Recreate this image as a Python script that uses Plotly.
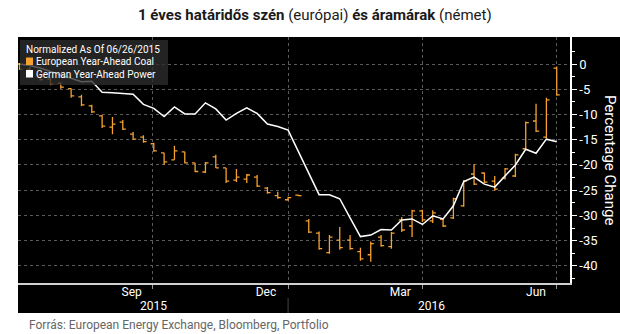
import plotly.graph_objects as go
import pandas as pd

# ---------------- data ----------------
week_dates = pd.date_range("2015-07-03", "2016-07-01", freq="W-FRI")

coal_open = [0.0, -1.0, -2.2, -3.0, -3.8, -4.9, -6.5, -8.3, -10.3, -12.5, -11.5, -13.9, -14.5,
             -15.8, -17.6, -19.0, -17.4, -19.6, -21.4, -18.4, -20.6, -23.0, -22.8, -22.4, -24.6,
             -26.1, -26.9, -26.0, -31.1, -33.5, -37.4, -34.9, -34.9, -37.2, -37.8, -34.3, -36.2,
             -30.9, -32.1, -29.1, -31.1, -30.8, -30.5, -28.1, -21.8, -21.6, -23.2, -22.6, -22.2,
             -16.8, -11.3, -14.5, -0.8]
coal_high = [0.2, -0.6, -2.0, -2.8, -3.6, -4.8, -6.1, -8.1, -10.1, -10.5, -11.1, -13.5, -14.1,
             -15.6, -17.6, -16.2, -17.4, -19.6, -19.4, -18.0, -20.6, -20.8, -21.8, -22.0, -24.4,
             -25.3, -26.3, -25.9, -30.7, -33.2, -33.9, -32.3, -33.9, -36.4, -35.2, -33.9, -33.3,
             -30.3, -28.9, -28.9, -29.0, -30.5, -26.5, -23.0, -19.8, -21.5, -22.2, -20.6, -17.8,
             -11.4, -7.9, -6.7, -0.5]
coal_low = [-1.2, -2.4, -3.3, -4.2, -4.9, -6.7, -8.3, -9.7, -12.7, -13.9, -13.1, -15.0, -15.6,
            -17.4, -20.0, -19.0, -19.7, -21.4, -21.6, -20.6, -23.6, -23.4, -23.6, -24.4, -25.7,
            -26.7, -27.1, -26.2, -33.5, -36.8, -37.6, -36.8, -36.8, -39.0, -39.2, -36.2, -36.6,
            -33.3, -34.3, -31.3, -31.5, -32.3, -30.7, -28.3, -24.0, -23.6, -25.1, -22.9, -22.4,
            -17.0, -13.5, -14.7, -6.3]
coal_close = [-1.0, -2.0, -3.1, -4.0, -4.6, -6.3, -8.1, -9.5, -12.3, -11.9, -12.9, -14.9, -15.4,
              -17.2, -19.4, -17.2, -19.6, -21.3, -19.6, -20.6, -23.2, -22.4, -22.0, -24.2, -25.5,
              -26.5, -26.5, -26.1, -33.3, -36.6, -34.3, -36.4, -36.6, -38.6, -35.6, -36.0, -33.5,
              -32.9, -29.1, -30.9, -29.5, -32.1, -26.7, -23.2, -23.8, -23.4, -24.8, -20.8, -18.0,
              -11.6, -13.3, -7.1, -6.1]
power = [0.0, -0.3, -0.8, -1.5, -2.2, -2.9, -3.5, -3.4, -5.6, -5.7, -5.8, -6.0, -8.0, -8.8,
         -10.4, -8.5, -9.9, -9.9, -7.7, -8.9, -11.1, -9.8, -8.7, -9.8, -11.9, -12.4, -13.1,
         -17.4, -21.6, -25.9, -25.9, -26.7, -30.5, -34.2, -33.9, -32.8, -32.9, -30.9, -30.7,
         -31.8, -30.1, -30.7, -28.1, -23.3, -22.4, -23.8, -24.4, -22.3, -20.0, -16.9, -17.7,
         -14.9, -15.4]

x_label_dates = ["2015-09-17", "2015-12-17", "2016-03-17", "2016-06-17"]
x_labels = ["Sep", "Dec", "Mar", "Jun"]
quarter_starts = ["2015-10-01", "2016-01-01", "2016-04-01", "2016-07-01"]
y_ticks = [0, -5, -10, -15, -20, -25, -30, -35, -40]
y_minor = [2.5, -2.5, -7.5, -12.5, -17.5, -22.5, -27.5, -32.5, -37.5, -42.5]
year_labels = ["2015", "2016"]
legend_title = "Normalized As Of 06/26/2015"
series_names = ["European Year-Ahead Coal", "German Year-Ahead Power"]

COAL = "#f5a02f"
FONT = "Roboto"

fig = go.Figure()
fig.add_trace(go.Ohlc(
    x=week_dates, open=coal_open, high=coal_high, low=coal_low, close=coal_close,
    increasing=dict(line=dict(color=COAL, width=1.3)),
    decreasing=dict(line=dict(color=COAL, width=1.3)),
    tickwidth=0.3, showlegend=False, hoverinfo="skip", name=series_names[0]))
fig.add_trace(go.Scatter(
    x=week_dates, y=power, mode="lines", line=dict(color="white", width=1.5),
    showlegend=False, hoverinfo="skip", name=series_names[1]))

fig.update_layout(
    width=620, height=334,
    margin=dict(l=18, r=50, t=37, b=51),
    paper_bgcolor="white", plot_bgcolor="black",
    showlegend=False,
    xaxis=dict(
        type="date", range=["2015-07-02", "2016-07-10"],
        tickmode="array", tickvals=x_label_dates, ticktext=x_labels,
        ticks="", showgrid=False, zeroline=False,
        showline=True, linecolor="#d0d0d0", linewidth=1.5,
        tickfont=dict(color="white", size=12, family=FONT),
        ticklabelstandoff=-3,
        rangeslider=dict(visible=False),
        minor=dict(tickmode="array", tickvals=quarter_starts, showgrid=True,
                   gridcolor="#5a5a5a", griddash="dot", gridwidth=1,
                   ticks="outside", ticklen=4, tickcolor="#999"),
    ),
    yaxis=dict(
        side="right", range=[-43.4, 5.35],
        tickmode="array", tickvals=y_ticks, ticktext=[str(v) for v in y_ticks],
        ticks="outside", ticklen=5, tickcolor="white",
        showline=True, linecolor="white", linewidth=1.5,
        showgrid=True, gridcolor="#5a5a5a", griddash="dot", gridwidth=1,
        zeroline=False,
        tickfont=dict(color="white", size=13, family=FONT),
        minor=dict(tickmode="array", tickvals=y_minor, ticks="outside", ticklen=3,
                   tickcolor="white", showgrid=False),
    ),
)

W, H = 552.0, 246.0
def px(x):
    return (x - 18) / W
def py(y):
    return (283 - y) / H

shapes = [
    dict(type="rect", xref="paper", yref="paper", x0=0, x1=px(620), y0=py(313), y1=1.0,
         fillcolor="black", line=dict(width=0), layer="below"),
    dict(type="rect", xref="paper", yref="paper", x0=px(20), x1=px(168), y0=py(85), y1=py(40),
         fillcolor="rgba(45,45,45,0.78)", line=dict(width=0), layer="above"),
    dict(type="line", xref="x", yref="paper", x0=quarter_starts[1], x1=quarter_starts[1],
         y0=py(298), y1=py(313), line=dict(color="#444", width=1), layer="above"),
    # legend swatches
    dict(type="rect", xref="paper", yref="paper", x0=px(26), x1=px(33), y0=py(65), y1=py(57.5),
         fillcolor=COAL, line=dict(width=0), layer="above"),
    dict(type="rect", xref="paper", yref="paper", x0=px(26), x1=px(33), y0=py(77.5), y1=py(70),
         fillcolor="white", line=dict(width=0), layer="above"),
]
fig.update_layout(shapes=shapes)

ann = [
    dict(text="<b>1 éves határidős szén</b> (európai) <b>és áramárak</b> (német)",
         xref="paper", yref="paper", x=px(315), y=py(15), xanchor="center", yanchor="middle",
         showarrow=False, font=dict(family=FONT, size=15, color="#1a1a1a")),
    dict(text="Forrás: European Energy Exchange, Bloomberg, Portfolio",
         xref="paper", yref="paper", x=px(27), y=py(325), xanchor="left", yanchor="middle",
         showarrow=False, font=dict(family=FONT, size=12, color="#666666")),
    dict(text="Percentage Change", xref="paper", yref="paper", x=px(610), y=py(160),
         xanchor="center", yanchor="middle", textangle=90, showarrow=False,
         font=dict(family=FONT, size=15, color="white")),
    dict(text=legend_title, xref="paper", yref="paper", x=px(24), y=py(49.5),
         xanchor="left", yanchor="middle", showarrow=False,
         font=dict(family=FONT, size=10, color="white")),
]
for name, yc in zip(series_names, [61.5, 74]):
    ann.append(dict(text=name, xref="paper", yref="paper", x=px(34), y=py(yc),
                    xanchor="left", yanchor="middle", showarrow=False,
                    font=dict(family=FONT, size=10, color="white")))
for lbl, xc in zip(year_labels, [153, 431]):
    ann.append(dict(text=lbl, xref="paper", yref="paper", x=px(xc), y=py(306),
                    xanchor="center", yanchor="middle", showarrow=False,
                    font=dict(family=FONT, size=12, color="white")))
fig.update_layout(annotations=ann)

fig.write_html("out.html")
